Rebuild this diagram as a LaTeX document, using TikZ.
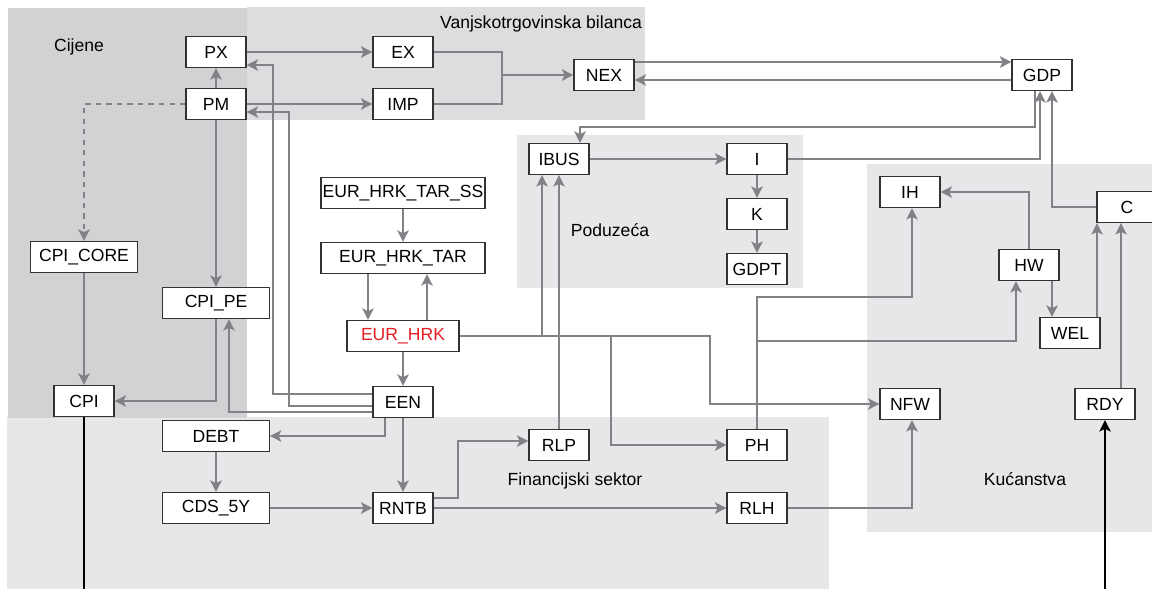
\documentclass[tikz,border=0pt]{standalone}
\usepackage{fontspec}
\setmainfont{Liberation Sans}
\usetikzlibrary{arrows.meta}

\definecolor{linegray}{RGB}{128,130,133}
\definecolor{boxline}{RGB}{50,50,52}
\definecolor{prices}{RGB}{209,210,212}
\definecolor{trade}{RGB}{220,221,223}
\definecolor{sectorbg}{RGB}{230,231,232}
\definecolor{fxred}{RGB}{227,30,36}

\tikzset{
		var/.style={draw=boxline,fill=white,line width=0.7pt,inner sep=0pt,
			minimum width=1.2cm,minimum height=0.62cm,font=\fontsize{10}{12}\selectfont},
		widevar/.style={var,minimum width=2.13cm},
		link/.style={draw=linegray,line width=1pt,-{Stealth[length=6.5pt,width=6.5pt,inset=1.5pt]}},
		plain/.style={draw=linegray,line width=1pt},
		sectorlabel/.style={font=\fontsize{10}{12}\selectfont}
	}

\begin{document}
\begin{tikzpicture}[x=0.02cm,y=-0.02cm]
				\useasboundingbox (0,0) rectangle (1152,589);
				% sectors
				\fill[sectorbg] (7,417) rectangle (829,589);
				\fill[prices] (8,8) rectangle (247,418);
				\fill[trade] (247,7) rectangle (645,120);
				\fill[sectorbg] (517,135) rectangle (803,288);
				\fill[sectorbg] (867,164) rectangle (1152,532);
				\node[sectorlabel] (cijene) at (79,47) {Cijene};
				\node[sectorlabel] (vanjska) at (541,24) {Vanjskotrgovinska bilanca};
				\node[sectorlabel] (poduzeca) at (610,230) {Poduzeća};
				\node[sectorlabel] (financ) at (575,481) {Financijski sektor};
				\node[sectorlabel] (kucanstva) at (1025,479) {Kućanstva};

				% variables
				\node[var] (PX) at (216,52) {PX};
				\node[var] (PM) at (216,104) {PM};
				\node[var] (EX) at (403,52) {EX};
				\node[var] (IMP) at (403,104) {IMP};
				\node[var] (NEX) at (604,75) {NEX};
				\node[var] (GDP) at (1042,75) {GDP};
				\node[var] (IBUS) at (559,159) {IBUS};
				\node[var] (I) at (757,159) {I};
				\node[var] (K) at (757,214) {K};
				\node[var] (GDPT) at (757,269) {GDPT};
				\node[var] (IH) at (910,192) {IH};
				\node[var] (C) at (1127,207) {C};
				\node[var] (HW) at (1029,265) {HW};
				\node[var] (WEL) at (1070,333) {WEL};
				\node[var] (NFW) at (910,404) {NFW};
				\node[var] (RDY) at (1105,404) {RDY};
				\node[var] (PH) at (757,445) {PH};
				\node[var] (RLH) at (757,508) {RLH};
				\node[var] (RLP) at (559,445) {RLP};
				\node[var] (RNTB) at (403,508) {RNTB};
				\node[var] (EEN) at (403,402) {EEN};
				\node[var,minimum width=2.24cm,text=fxred] (EURHRK) at (403,336) {EUR\_HRK};
				\node[var,minimum width=3.28cm] (TAR) at (403,258) {EUR\_HRK\_TAR};
				\node[var,minimum width=3.28cm] (TARSS) at (403,193) {EUR\_HRK\_TAR\_SS};
				\node[widevar] (CPICORE) at (84,257) {CPI\_CORE};
				\node[widevar] (CPIPE) at (216,303) {CPI\_PE};
				\node[var] (CPI) at (84,401) {CPI};
				\node[widevar] (DEBT) at (216,436) {DEBT};
				\node[widevar] (CDS) at (216,508) {CDS\_5Y};

				% trade
				\draw[link] (PX) -- (EX);
				\draw[link] (PM) -- (PX);
				\draw[link] (PM) -- (IMP);
				\draw[plain] (EX.east) -| (502,75);
				\draw[plain] (IMP.east) -| (502,75);
				\draw[link] (502,75) -- (NEX.west);
				\draw[link] (NEX.east |- 0,62) -- (GDP.west |- 0,62);
				\draw[link] (GDP.west |- 0,80) -- (NEX.east |- 0,80);

				% firms
				\draw[link] (GDP.south -| 1035,0) |- (580,127) -- (IBUS.north -| 580,0);
				\draw[link] (IBUS) -- (I);
				\draw[link] (I) -- (K);
				\draw[link] (K) -- (GDPT);
				\draw[link] (I.east) -| (GDP.south -| 1040,0);

				% households
				\draw[link] (C.west) -| (GDP.south -| 1052,0);
				\draw[link] (HW.north) |- (IH.east);
				\draw[link] (HW.south -| 1052,0) -- (WEL.north -| 1052,0);
				\draw[link] (WEL.north -| 1097,0) -- (C.south -| 1097,0);
				\draw[link] (RDY.north -| 1121,0) -- (C.south -| 1121,0);
				\draw[line width=1pt,-{Stealth[length=6.5pt,width=6.5pt,inset=1.5pt]}] (1105,589) -- (RDY.south);
				\draw[line width=1pt] (CPI.south) -- (84,589);

				% prices
				\draw[link,dashed] (PM.west) -| (CPICORE.north);
				\draw[link] (CPICORE) -- (CPI);
				\draw[link] (PM) -- (CPIPE);
				\draw[link] (CPIPE.south) |- (CPI.east);
				\draw[link] (EEN.west |- 0,412) -| (CPIPE.south -| 229,0);
				\draw[link] (EEN.west |- 0,394) -| (273,65) -- (PX.east |- 0,65);
				\draw[link] (EEN.west |- 0,406) -| (289,112) -- (PM.east |- 0,112);

				% exchange rate
				\draw[link] (TARSS) -- (TAR);
				\draw[link] (TAR.south -| 368,0) -- (EURHRK.north -| 368,0);
				\draw[link] (EURHRK.north -| 427,0) -- (TAR.south -| 427,0);
				\draw[link] (EURHRK) -- (EEN);
				\draw[link] (EURHRK.east) -| (710,404) -- (NFW.west);
				\draw[link] (EURHRK.east) -| (IBUS.south -| 542,0);
				\draw[link] (EURHRK.east) -- (611,336) |- (PH.west);
				\draw[link] (RLP.north) -- (RLP.north |- IBUS.south);
				\draw[link] (PH.north) -- (PH.north |- 0,297) -| (IH.south -| 912,0);
				\draw[link] (PH.north |- 0,341) -| (HW.south -| 1016,0);

				% financial sector
				\draw[link] (EEN.south -| 385,0) |- (DEBT.east);
				\draw[link] (EEN) -- (RNTB);
				\draw[link] (DEBT) -- (CDS);
				\draw[link] (CDS) -- (RNTB);
				\draw[link] (RNTB.east |- 0,498) -- (458,498) |- (RLP.west |- 0,441);
				\draw[link] (RNTB) -- (RLH);
				\draw[link] (RLH.east) -| (NFW.south -| 912,0);
			\end{tikzpicture}
\end{document}
